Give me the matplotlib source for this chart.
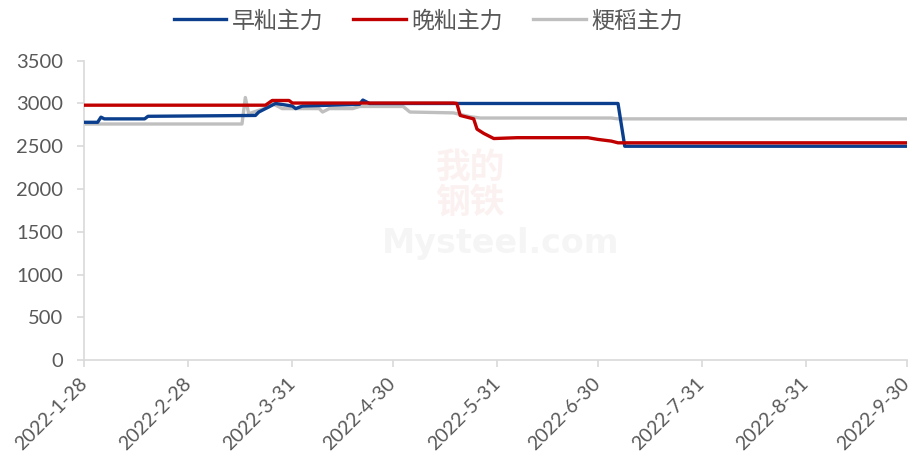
import pandas as pd
import matplotlib
matplotlib.use('Agg')
import matplotlib.pyplot as plt

plt.rcParams['font.family'] = ['Lato', 'Noto Sans CJK SC', 'DejaVu Sans']

# early indica rice futures (早籼主力)
zao_dates = ['2022-01-28', '2022-02-01', '2022-02-02', '2022-02-03', '2022-02-15', '2022-02-16',
             '2022-03-20', '2022-03-21', '2022-03-24', '2022-03-26', '2022-03-31', '2022-04-01',
             '2022-04-03', '2022-04-20', '2022-04-21', '2022-04-23', '2022-07-06', '2022-07-08',
             '2022-09-30']
zao_vals = [2780, 2780, 2840, 2820, 2820, 2850,
            2860, 2900, 2960, 3000, 2970, 2940,
            2970, 2990, 3040, 3000, 3000, 2500,
            2500]

# late indica rice futures (晚籼主力)
wan_dates = ['2022-01-28', '2022-03-23', '2022-03-25', '2022-03-30', '2022-03-31', '2022-05-18',
             '2022-05-19', '2022-05-20', '2022-05-24', '2022-05-25', '2022-05-27', '2022-05-30',
             '2022-06-06', '2022-06-27', '2022-06-30', '2022-07-04', '2022-07-06', '2022-09-30']
wan_vals = [2980, 2980, 3035, 3035, 3005, 3005,
            3000, 2860, 2820, 2700, 2650, 2590,
            2600, 2600, 2580, 2560, 2540, 2540]

# japonica rice futures (粳稻主力)
jing_dates = ['2022-01-28', '2022-03-16', '2022-03-17', '2022-03-18', '2022-03-21', '2022-03-24',
              '2022-03-25', '2022-03-28', '2022-04-08', '2022-04-09', '2022-04-11', '2022-04-18',
              '2022-04-20', '2022-05-03', '2022-05-05', '2022-05-18', '2022-05-23', '2022-05-26',
              '2022-07-04', '2022-07-06', '2022-09-30']
jing_vals = [2760, 2760, 3070, 2880, 2920, 2960,
             3000, 2940, 2940, 2900, 2940, 2940,
             2965, 2965, 2900, 2890, 2845, 2830,
             2830, 2820, 2820]

tick_dates = ['2022-01-28', '2022-02-28', '2022-03-31', '2022-04-30', '2022-05-31',
              '2022-06-30', '2022-07-31', '2022-08-31', '2022-09-30']
tick_labels = ['2022-1-28', '2022-2-28', '2022-3-31', '2022-4-30', '2022-5-31',
               '2022-6-30', '2022-7-31', '2022-8-31', '2022-9-30']

fig = plt.figure(figsize=(9.15, 4.67), dpi=100)
ax = fig.add_axes([0.092, 0.229, 0.899, 0.641])

ax.plot(pd.to_datetime(zao_dates), zao_vals, color='#0B3F8E', lw=2.4, label='早籼主力', zorder=3)
ax.plot(pd.to_datetime(wan_dates), wan_vals, color='#C00000', lw=2.4, label='晚籼主力', zorder=4)
ax.plot(pd.to_datetime(jing_dates), jing_vals, color='#BFBFBF', lw=2.4, label='粳稻主力', zorder=2)

ax.set_xlim(pd.Timestamp(tick_dates[0]), pd.Timestamp(tick_dates[-1]))
ax.set_ylim(0, 3500)
ax.set_yticks(range(0, 3501, 500))
ax.set_xticks(pd.to_datetime(tick_dates))
ax.set_xticklabels(tick_labels, rotation=45, ha='right', va='center', rotation_mode='anchor')

for s in ['top', 'right']:
    ax.spines[s].set_visible(False)
for s in ['left', 'bottom']:
    ax.spines[s].set_color('#D9D9D9')
    ax.spines[s].set_linewidth(1.2)
ax.tick_params(axis='both', colors='#D9D9D9', labelcolor='#595959', length=5, width=1.2)
ax.tick_params(axis='x', pad=10, labelsize=14)
ax.tick_params(axis='y', pad=10, labelsize=14.5)

# faint watermark
fig.text(0.514, 0.605, '我的\n钢铁', family='Noto Sans CJK SC', fontsize=25, color='#E8A0A0',
         alpha=0.14, ha='center', va='center', linespacing=1.0, fontweight='bold')
fig.text(0.547, 0.478, 'Mysteel.com', family='DejaVu Sans', fontsize=24, color='#B0B0B0',
         alpha=0.12, ha='center', va='center', fontweight='bold')

leg = fig.legend(loc='center', bbox_to_anchor=(0.468, 0.955), ncol=3, frameon=False,
                 prop={'family': 'Noto Sans CJK SC', 'size': 16.5}, handlelength=2.3,
                 handletextpad=0.25, columnspacing=1.3)
for t in leg.get_texts():
    t.set_color('#595959')

fig.savefig('out.png', dpi=100)
